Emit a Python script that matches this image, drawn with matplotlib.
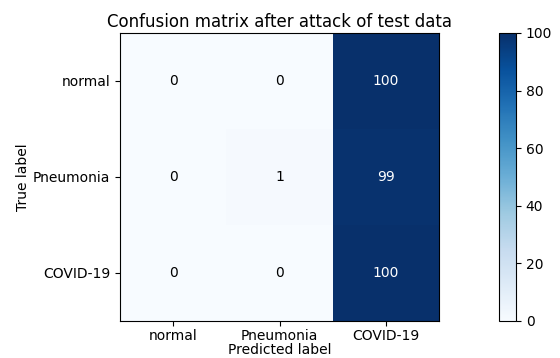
import numpy as np
import matplotlib
matplotlib.use("Agg")
import matplotlib.pyplot as plt

classes = ["normal", "Pneumonia", "COVID-19"]
cm = np.array([[0, 0, 100],
               [0, 1, 99],
               [0, 0, 100]])

fig = plt.figure(figsize=(5.6, 3.58), dpi=100)
ax = fig.add_axes([120/560, 1 - 321/358, 319/560, 288/358])
cax = fig.add_axes([499/560, 1 - 321/358, 17/560, 288/358])

im = ax.imshow(cm, interpolation="nearest", cmap=plt.cm.Blues, aspect="auto", vmin=0, vmax=100)
cb = fig.colorbar(im, cax=cax)
cb.set_ticks([0, 20, 40, 60, 80, 100])
cb.ax.tick_params(labelsize=10)

ax.set_title("Confusion matrix after attack of test data", fontsize=12, pad=4)
ax.set_xticks(np.arange(len(classes)))
ax.set_xticklabels(classes, fontsize=10)
ax.tick_params(axis="x", pad=2)
ax.set_yticks(np.arange(len(classes)))
ax.set_yticklabels(classes, fontsize=10)
ax.set_ylabel("True label", fontsize=10, labelpad=2)
ax.set_xlabel("Predicted label", fontsize=10, labelpad=0.5)

thresh = cm.max() / 2.0
for i in range(cm.shape[0]):
    for j in range(cm.shape[1]):
        ax.text(j, i, str(cm[i, j]), ha="center", va="center", fontsize=10,
                color="white" if cm[i, j] > thresh else "black")

fig.savefig("out.png", dpi=100)
